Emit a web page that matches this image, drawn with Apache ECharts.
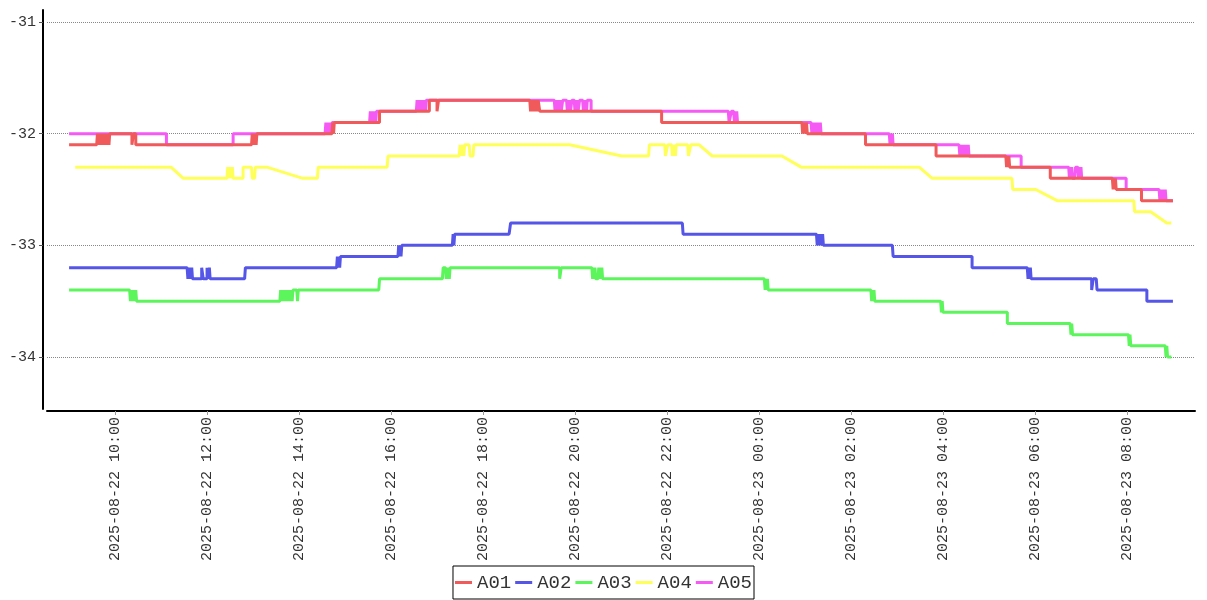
<!DOCTYPE html>
<html>
<head>
<meta charset="utf-8">
<script src="https://cdn.jsdelivr.net/npm/echarts@6/dist/echarts.min.js"></script>
<style>html,body{margin:0;padding:0;background:#fff}#c{width:1207px;height:600px}</style>
</head>
<body>
<div id="c"></div>
<script>
const seriesNames = ['A01', 'A02', 'A03', 'A04', 'A05'];
const xTickLabels = ['2025-08-22 10:00', '2025-08-22 12:00', '2025-08-22 14:00', '2025-08-22 16:00',
  '2025-08-22 18:00', '2025-08-22 20:00', '2025-08-22 22:00', '2025-08-23 00:00',
  '2025-08-23 02:00', '2025-08-23 04:00', '2025-08-23 06:00', '2025-08-23 08:00'];
const yTickValues = [-34, -33, -32, -31];

// [day hh:mm, value]  (day of 2025-08)
const A01 = [["22 09:00",-32.1],["22 09:36",-32.1],["22 09:37",-32.0],["22 09:38",-32.1],["22 09:39",-32.0],["22 09:40",-32.1],["22 09:41",-32.0],["22 09:42",-32.1],["22 09:43",-32.0],["22 09:44",-32.1],["22 09:45",-32.0],["22 09:46",-32.1],["22 09:47",-32.0],["22 09:48",-32.1],["22 09:49",-32.0],["22 09:50",-32.1],["22 09:51",-32.0],["22 09:52",-32.1],["22 09:53",-32.0],
["22 10:22",-32.0],["22 10:22",-32.1],["22 10:24",-32.1],["22 10:24",-32.0],["22 10:27",-32.0],["22 10:27",-32.1],
["22 12:58",-32.1],["22 12:59",-32.0],["22 13:00",-32.1],["22 13:01",-32.0],["22 13:02",-32.1],["22 13:03",-32.0],["22 13:04",-32.1],["22 13:05",-32.0],
["22 14:43",-32.0],["22 14:44",-31.9],["22 14:45",-32.0],["22 14:46",-31.9],
["22 15:45",-31.9],["22 15:45",-31.8],
["22 16:50",-31.8],["22 16:50",-31.7],["22 17:00",-31.7],["22 17:00",-31.8],["22 17:02",-31.8],["22 17:02",-31.7],
["22 19:01",-31.7],["22 19:02",-31.8],["22 19:03",-31.7],["22 19:04",-31.8],["22 19:05",-31.7],["22 19:06",-31.8],["22 19:07",-31.7],["22 19:08",-31.8],["22 19:10",-31.7],["22 19:11",-31.8],["22 19:12",-31.7],["22 19:14",-31.8],
["22 21:53",-31.8],["22 21:53",-31.9],
["23 00:56",-31.9],["23 00:57",-32.0],["23 00:58",-31.9],["23 00:59",-32.0],["23 01:00",-31.9],["23 01:01",-32.0],["23 01:02",-31.9],["23 01:03",-32.0],
["23 02:19",-32.0],["23 02:19",-32.1],
["23 03:51",-32.1],["23 03:51",-32.2],
["23 05:22",-32.2],["23 05:23",-32.3],["23 05:24",-32.2],["23 05:25",-32.3],["23 05:26",-32.2],["23 05:27",-32.3],
["23 06:20",-32.3],["23 06:20",-32.4],
["23 07:41",-32.4],["23 07:42",-32.5],["23 07:43",-32.4],["23 07:44",-32.5],["23 07:45",-32.4],["23 07:46",-32.5],
["23 08:19",-32.5],["23 08:19",-32.6],["23 09:00",-32.6]];

const A02 = [["22 09:00",-33.2],["22 11:34",-33.2],["22 11:35",-33.3],["22 11:36",-33.2],["22 11:37",-33.3],["22 11:38",-33.2],["22 11:39",-33.3],["22 11:40",-33.2],["22 11:41",-33.3],["22 11:42",-33.3],
["22 11:53",-33.3],["22 11:53",-33.2],["22 11:55",-33.2],["22 11:55",-33.3],["22 12:00",-33.3],["22 12:00",-33.2],["22 12:01",-33.3],["22 12:03",-33.2],["22 12:04",-33.3],
["22 12:49",-33.3],["22 12:50",-33.2],
["22 14:49",-33.2],["22 14:50",-33.1],["22 14:51",-33.2],["22 14:52",-33.1],["22 14:53",-33.2],["22 14:54",-33.1],
["22 16:09",-33.1],["22 16:10",-33.0],["22 16:11",-33.1],["22 16:12",-33.0],["22 16:13",-33.1],["22 16:14",-33.0],
["22 17:20",-33.0],["22 17:21",-32.9],["22 17:22",-33.0],["22 17:23",-32.9],["22 17:24",-32.9],
["22 18:34",-32.9],["22 18:36",-32.8],
["22 22:20",-32.8],["22 22:21",-32.9],
["23 01:15",-32.9],["23 01:16",-33.0],["23 01:17",-32.9],["23 01:18",-33.0],["23 01:19",-32.9],["23 01:20",-33.0],["23 01:21",-32.9],["23 01:22",-33.0],["23 01:23",-32.9],["23 01:24",-33.0],
["23 02:54",-33.0],["23 02:55",-33.1],
["23 04:38",-33.1],["23 04:38",-33.2],
["23 05:50",-33.2],["23 05:51",-33.3],["23 05:52",-33.2],["23 05:53",-33.3],["23 05:54",-33.2],["23 05:55",-33.3],
["23 07:14",-33.3],["23 07:14",-33.4],["23 07:16",-33.4],["23 07:16",-33.3],["23 07:20",-33.3],["23 07:21",-33.4],
["23 08:26",-33.4],["23 08:26",-33.5],["23 09:00",-33.5]];

const A03 = [["22 09:00",-33.4],["22 10:19",-33.4],["22 10:20",-33.5],["22 10:21",-33.4],["22 10:22",-33.5],["22 10:23",-33.4],["22 10:24",-33.5],["22 10:25",-33.4],["22 10:26",-33.5],["22 10:27",-33.4],["22 10:28",-33.5],["22 10:30",-33.5],
["22 13:35",-33.5],["22 13:36",-33.4],["22 13:37",-33.5],["22 13:38",-33.4],["22 13:39",-33.5],["22 13:40",-33.4],["22 13:41",-33.5],["22 13:42",-33.4],["22 13:43",-33.5],["22 13:44",-33.4],["22 13:45",-33.5],["22 13:46",-33.4],["22 13:47",-33.5],["22 13:48",-33.4],["22 13:49",-33.5],["22 13:50",-33.4],["22 13:51",-33.5],["22 13:52",-33.4],
["22 13:57",-33.4],["22 13:58",-33.5],["22 13:59",-33.4],
["22 15:44",-33.4],["22 15:45",-33.3],
["22 17:07",-33.3],["22 17:08",-33.2],["22 17:11",-33.2],["22 17:12",-33.3],["22 17:13",-33.2],["22 17:14",-33.3],["22 17:15",-33.2],["22 17:16",-33.3],["22 17:17",-33.2],["22 17:18",-33.2],
["22 19:40",-33.2],["22 19:40",-33.3],["22 19:42",-33.3],["22 19:42",-33.2],
["22 20:22",-33.2],["22 20:23",-33.3],["22 20:24",-33.2],["22 20:25",-33.3],["22 20:26",-33.2],["22 20:27",-33.3],["22 20:30",-33.3],["22 20:31",-33.2],["22 20:32",-33.3],["22 20:33",-33.2],["22 20:34",-33.3],["22 20:35",-33.2],["22 20:36",-33.3],
["23 00:07",-33.3],["23 00:08",-33.4],["23 00:09",-33.3],["23 00:10",-33.4],["23 00:11",-33.3],["23 00:12",-33.4],
["23 02:26",-33.4],["23 02:27",-33.5],["23 02:28",-33.4],["23 02:29",-33.5],["23 02:30",-33.4],["23 02:31",-33.5],
["23 03:57",-33.5],["23 03:58",-33.6],["23 03:59",-33.5],["23 04:00",-33.6],
["23 05:24",-33.6],["23 05:24",-33.7],
["23 06:46",-33.7],["23 06:47",-33.8],["23 06:48",-33.7],["23 06:49",-33.8],
["23 08:02",-33.8],["23 08:03",-33.9],["23 08:04",-33.8],["23 08:05",-33.9],
["23 08:50",-33.9],["23 08:51",-34.0],["23 08:52",-33.9],["23 08:53",-34.0],["23 08:58",-34.0]];

const A04 = [["22 09:08",-32.3],["22 11:13",-32.3],["22 11:29",-32.4],["22 12:26",-32.4],["22 12:27",-32.3],["22 12:28",-32.4],["22 12:29",-32.3],["22 12:30",-32.4],["22 12:31",-32.3],["22 12:32",-32.4],["22 12:33",-32.3],["22 12:34",-32.4],
["22 12:47",-32.4],["22 12:47",-32.3],["22 12:58",-32.3],["22 12:59",-32.4],["22 13:02",-32.4],["22 13:03",-32.3],["22 13:18",-32.3],["22 14:05",-32.4],
["22 14:24",-32.4],["22 14:25",-32.3],["22 15:55",-32.3],["22 15:56",-32.2],
["22 17:29",-32.2],["22 17:30",-32.1],["22 17:31",-32.2],["22 17:32",-32.1],["22 17:33",-32.2],["22 17:34",-32.1],["22 17:35",-32.2],["22 17:36",-32.1],["22 17:42",-32.1],["22 17:43",-32.2],["22 17:47",-32.2],["22 17:48",-32.1],
["22 19:53",-32.1],["22 21:01",-32.2],["22 21:36",-32.2],["22 21:37",-32.1],
["22 21:57",-32.1],["22 21:58",-32.2],["22 22:00",-32.2],["22 22:01",-32.1],["22 22:06",-32.1],["22 22:07",-32.2],["22 22:08",-32.1],["22 22:09",-32.2],["22 22:10",-32.1],["22 22:11",-32.2],["22 22:12",-32.1],
["22 22:27",-32.1],["22 22:28",-32.2],["22 22:30",-32.2],["22 22:31",-32.1],["22 22:42",-32.1],["22 22:59",-32.2],
["23 00:30",-32.2],["23 00:55",-32.3],["23 03:29",-32.3],["23 03:46",-32.4],["23 05:30",-32.4],["23 05:31",-32.5],
["23 06:01",-32.5],["23 06:29",-32.6],["23 08:09",-32.6],["23 08:10",-32.7],["23 08:31",-32.7],["23 08:52",-32.8],["23 08:58",-32.8]];

const A05 = [["22 09:00",-32.0],["22 11:07",-32.0],["22 11:07",-32.1],["22 12:34",-32.1],["22 12:34",-32.0],
["22 14:34",-32.0],["22 14:35",-31.9],["22 14:36",-32.0],["22 14:37",-31.9],["22 14:38",-32.0],["22 14:39",-31.9],["22 14:40",-32.0],["22 14:41",-31.9],["22 14:42",-32.0],["22 14:43",-31.9],
["22 15:32",-31.9],["22 15:33",-31.8],["22 15:34",-31.9],["22 15:35",-31.8],["22 15:36",-31.9],["22 15:37",-31.8],["22 15:38",-31.9],["22 15:39",-31.8],["22 15:40",-31.9],["22 15:41",-31.8],["22 15:43",-31.8],
["22 16:33",-31.8],["22 16:34",-31.7],["22 16:35",-31.8],["22 16:36",-31.7],["22 16:37",-31.8],["22 16:38",-31.7],["22 16:39",-31.8],["22 16:40",-31.7],["22 16:41",-31.8],["22 16:42",-31.7],["22 16:43",-31.8],["22 16:44",-31.7],["22 16:45",-31.8],["22 16:46",-31.7],["22 16:48",-31.7],
["22 19:33",-31.7],["22 19:34",-31.8],["22 19:35",-31.7],["22 19:36",-31.8],["22 19:37",-31.7],["22 19:38",-31.8],["22 19:39",-31.7],["22 19:40",-31.8],["22 19:41",-31.7],["22 19:42",-31.8],["22 19:44",-31.7],
["22 19:49",-31.7],["22 19:50",-31.8],["22 19:51",-31.7],["22 19:52",-31.8],["22 19:53",-31.7],["22 19:54",-31.8],["22 19:56",-31.7],
["22 19:59",-31.7],["22 20:00",-31.8],["22 20:01",-31.7],["22 20:02",-31.8],["22 20:03",-31.7],["22 20:04",-31.8],["22 20:06",-31.7],
["22 20:10",-31.7],["22 20:11",-31.8],["22 20:12",-31.7],["22 20:13",-31.8],["22 20:14",-31.7],["22 20:15",-31.8],["22 20:16",-31.7],
["22 20:21",-31.7],["22 20:21",-31.8],
["22 23:20",-31.8],["22 23:21",-31.9],["22 23:23",-31.9],["22 23:24",-31.8],["22 23:27",-31.8],["22 23:28",-31.9],["22 23:29",-31.8],["22 23:30",-31.9],["22 23:31",-31.8],["22 23:32",-31.9],
["23 01:08",-31.9],["23 01:09",-32.0],["23 01:10",-31.9],["23 01:11",-32.0],["23 01:12",-31.9],["23 01:13",-32.0],["23 01:14",-31.9],["23 01:15",-32.0],["23 01:16",-31.9],["23 01:17",-32.0],["23 01:18",-31.9],["23 01:19",-32.0],["23 01:20",-31.9],["23 01:21",-32.0],
["23 02:50",-32.0],["23 02:51",-32.1],["23 02:52",-32.0],["23 02:53",-32.1],["23 02:54",-32.0],["23 02:55",-32.1],
["23 04:21",-32.1],["23 04:22",-32.2],["23 04:23",-32.1],["23 04:24",-32.2],["23 04:25",-32.1],["23 04:26",-32.2],["23 04:27",-32.1],["23 04:28",-32.2],["23 04:29",-32.1],["23 04:30",-32.2],["23 04:31",-32.1],["23 04:32",-32.2],["23 04:33",-32.1],["23 04:34",-32.2],
["23 05:42",-32.2],["23 05:42",-32.3],
["23 06:44",-32.3],["23 06:45",-32.4],["23 06:46",-32.3],["23 06:47",-32.4],["23 06:48",-32.3],["23 06:49",-32.4],["23 06:52",-32.4],["23 06:53",-32.3],["23 06:56",-32.3],["23 06:57",-32.4],["23 06:58",-32.3],["23 06:59",-32.4],["23 07:00",-32.3],["23 07:01",-32.4],
["23 07:59",-32.4],["23 07:59",-32.5],
["23 08:42",-32.5],["23 08:43",-32.6],["23 08:44",-32.5],["23 08:45",-32.6],["23 08:46",-32.5],["23 08:47",-32.6],["23 08:48",-32.5],["23 08:49",-32.6],["23 08:50",-32.5],["23 08:51",-32.6],["23 09:00",-32.6]];

const seriesData = [A01, A02, A03, A04, A05];
const colors = ['#f05a5a', '#5555e8', '#5cf55c', '#ffff5a', '#f55af5'];
const FONT = 'Liberation Mono';

function toTime(s) {
  const d = s.slice(0, 2), hm = s.slice(3);
  return new Date('2025-08-' + d + 'T' + hm + ':00').getTime();
}
function pad(n) { return (n < 10 ? '0' : '') + n; }
function fmt(v) {
  const d = new Date(v);
  return d.getFullYear() + '-' + pad(d.getMonth() + 1) + '-' + pad(d.getDate()) + ' ' + pad(d.getHours()) + ':' + pad(d.getMinutes());
}
const xTickValues = xTickLabels.map(s => new Date(s.replace(' ', 'T') + ':00').getTime());

const chart = echarts.init(document.getElementById('c'), null, { renderer: 'canvas' });
chart.setOption({
  animation: false,
  color: colors,
  grid: { left: 47, right: 12, top: 10, bottom: 191, containLabel: false },
  legend: {
    data: seriesNames,
    bottom: 1,
    left: 'center',
    icon: 'rect',
    itemWidth: 17,
    itemHeight: 3,
    itemGap: 4,
    padding: [6, 2, 6, 2],
    borderColor: '#000',
    borderWidth: 1,
    textStyle: { fontFamily: FONT, fontSize: 19, color: '#333', lineHeight: 21 }
  },
  xAxis: {
    type: 'value',
    min: toTime('22 08:31') + 12000,
    max: toTime('23 09:28') + 48000,
    offset: 2,
    axisLine: { show: true, lineStyle: { color: '#000', width: 2 } },
    axisTick: { show: true, customValues: xTickValues, length: 4, lineStyle: { color: '#999' } },
    axisLabel: {
      customValues: xTickValues,
      rotate: 90,
      margin: 6,
      fontFamily: FONT,
      fontSize: 15,
      color: '#333',
      formatter: v => fmt(v)
    },
    splitLine: { show: false }
  },
  yAxis: {
    type: 'value',
    min: -34.4657,
    max: -30.8925,
    offset: 4,
    axisLine: { show: true, lineStyle: { color: '#000', width: 2 } },
    axisTick: { show: true, customValues: yTickValues, length: 4, lineStyle: { color: '#555' } },
    axisLabel: { customValues: yTickValues, margin: 7, fontFamily: FONT, fontSize: 15, color: '#333' },
    splitLine: { show: true, lineStyle: { type: 'dotted', color: '#888', width: 1 } }
  },
  series: seriesNames.map((name, i) => ({
    name: name,
    type: 'line',
    z: name === 'A01' ? 4 : 2,
    showSymbol: false,
    symbol: 'none',
    lineStyle: { width: 3, color: colors[i] },
    itemStyle: { color: colors[i] },
    data: seriesData[i].map(p => [toTime(p[0]), p[1]])
  }))
});
</script>
</body>
</html>
